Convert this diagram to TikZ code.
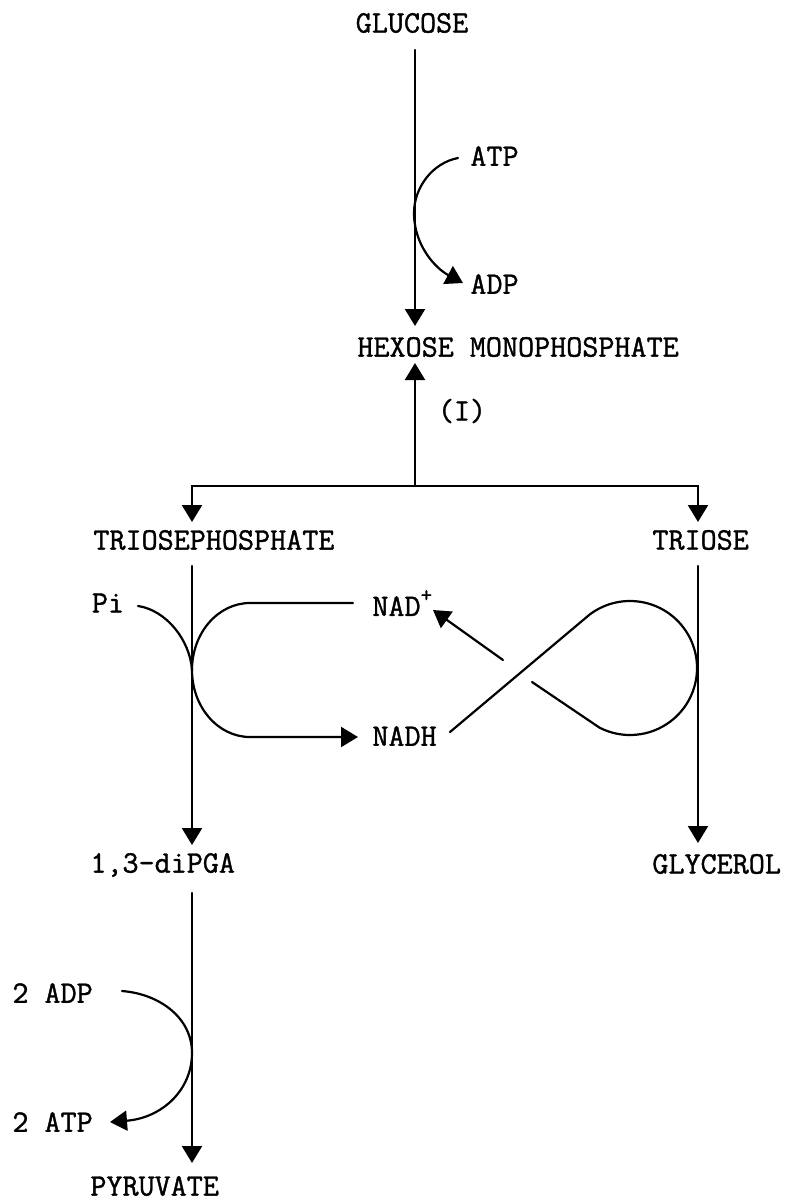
\documentclass[tikz,border=0pt]{standalone}
\usepackage{fontspec}
\setmonofont{Latin Modern Mono}[FakeBold=1.2]
\usetikzlibrary{arrows.meta}
\begin{document}
\begin{tikzpicture}[x=0.5pt,y=-0.5pt,
  lbl/.style={inner sep=0pt,font=\fontsize{15.6pt}{18pt}\selectfont\ttfamily},
  ln/.style={line width=1.1pt,line cap=round},
  arr/.style={ln,-{Triangle[width=10pt,length=8.5pt]}}]
\useasboundingbox (0,0) rectangle (788,1201);
% labels
\node[lbl] (glucose) at (412,23) {GLUCOSE};
\node[lbl,anchor=west] (atp) at (470,156) {ATP};
\node[lbl,anchor=west] (adp) at (470,284) {ADP};
\node[lbl,anchor=west] (hexose) at (357,347) {HEXOSE MONOPHOSPHATE};
\node[lbl] (one) at (462,411) {(I)};
\node[lbl,anchor=west] (tp) at (93,540) {TRIOSEPHOSPHATE};
\node[lbl,anchor=west] (triose) at (652,540) {TRIOSE};
\node[lbl] (pi) at (108,603) {Pi};
\node[lbl,anchor=west] (nadp) at (372,603) {NAD\raisebox{0.45em}{\fontsize{11pt}{12pt}\selectfont +}};
\node[lbl,anchor=west] (nadh) at (372,736) {NADH};
\node[lbl,anchor=west] (dipga) at (90,865) {1,3-diPGA};
\node[lbl,anchor=west] (glycerol) at (652,864) {GLYCEROL};
\node[lbl,anchor=west] (adp2) at (12,993) {2 ADP};
\node[lbl,anchor=west] (atp2) at (12,1122) {2 ATP};
\node[lbl,anchor=west] (pyruvate) at (90,1186) {PYRUVATE};
% coordinates
\coordinate (g1) at (415,50);
\coordinate (g2) at (415,326);
\coordinate (atpS) at (458,158);
\coordinate (atpT) at (414,213);
\coordinate (adpE) at (463,283);
\coordinate (br) at (415,486);
\coordinate (hx) at (415,363);
\coordinate (tpT) at (192,522);
\coordinate (trT) at (698,522);
\coordinate (l1) at (192,566);
\coordinate (l2) at (192,845);
\coordinate (r1) at (698,566);
\coordinate (r2) at (698,843);
\coordinate (piS) at (138,606);
\coordinate (touch) at (192,670);
\coordinate (nadpE) at (353,603);
\coordinate (nadhE) at (358,737);
\coordinate (x1) at (450,732);
\coordinate (x2) at (589.7,614.5);
\coordinate (x3) at (532,682);
\coordinate (x4) at (503,660);
\coordinate (x5) at (433,610);
\coordinate (b1) at (192,893);
\coordinate (b2) at (192,1163);
\coordinate (adpS) at (122,991);
\coordinate (btouch) at (192,1053);
\coordinate (atpE) at (110,1122);
% main axis
\draw[arr] (g1) -- (g2);
\draw[arr] (atpS) .. controls (432,163) and (414,188) .. (atpT)
  .. controls (414,245) and (435,268) .. (adpE);
\draw[arr] (br) -- (hx);
\draw[arr] (br) -| (tpT);
\draw[arr] (br) -| (trT);
\draw[arr] (l1) -- (l2);
\draw[arr] (r1) -- (r2);
% left loop
\draw[ln] (piS) .. controls (166,610) and (190,640) .. (touch);
\draw[ln] (nadpE) -- (250,603) .. controls (218,603) and (192,633) .. (touch);
\draw[arr] (touch) .. controls (192,707) and (218,737) .. (250,737) -- (nadhE);
% figure eight
\draw[ln] (x1) -- (x2) arc[start angle=233,end angle=477,radius=67] -- (x3);
\draw[arr] (x4) -- (x5);
% bottom
\draw[arr] (b1) -- (b2);
\draw[arr] (adpS) .. controls (160,994) and (192,1018) .. (btouch)
  .. controls (192,1090) and (162,1118) .. (atpE);
\end{tikzpicture}
\end{document}
